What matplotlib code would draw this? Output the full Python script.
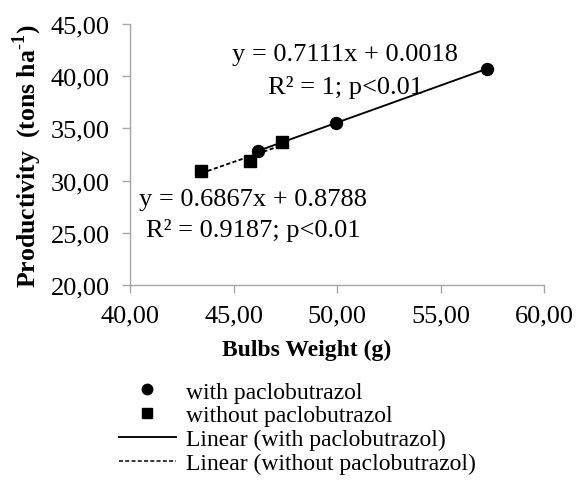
import numpy as np
import matplotlib
matplotlib.use("Agg")
import matplotlib.pyplot as plt
from matplotlib.lines import Line2D

# ---- data ----
with_x = [46.18, 49.93, 57.27]
with_y = [32.86, 35.52, 40.69]
without_x = [43.45, 45.82, 47.36]
without_y = [30.89, 31.85, 33.67]
with_fit = [0.7111, 0.0018]
without_fit = [0.6867, 0.8788]
x_ticks = [40, 45, 50, 55, 60]
y_ticks = [20, 25, 30, 35, 40, 45]
legend_labels = ["with paclobutrazol", "without paclobutrazol",
                 "Linear (with paclobutrazol)", "Linear (without paclobutrazol)"]
eq_with = ["y = 0.7111x + 0.0018", "R² = 1; p<0.01"]
eq_without = ["y = 0.6867x + 0.8788", "R² = 0.9187; p<0.01"]

plt.rcParams['font.family'] = ['Liberation Serif', 'DejaVu Serif']
plt.rcParams['mathtext.fontset'] = 'custom'
plt.rcParams['mathtext.rm'] = 'Liberation Serif'
plt.rcParams['mathtext.bf'] = 'Liberation Serif:bold'

W, H = 577, 481
fig = plt.figure(figsize=(W / 100, H / 100), dpi=100)
ax = fig.add_axes([130 / W, 1 - 286 / H, (544 - 130) / W, (286 - 25) / H])

axis_col = '#a6a6a6'
lw = 1.35

# trend lines
xw = np.array([min(with_x), max(with_x)])
ax.plot(xw, np.polyval(with_fit, xw), color='black', lw=lw, zorder=2)
xo = np.array([min(without_x), max(without_x)])
ax.plot(xo, np.polyval(without_fit, xo), color='black', lw=lw,
        dashes=(2.2, 1.3), zorder=2)

# points
ax.plot(with_x, with_y, 'o', color='black', ms=8.6, ls='none', zorder=3)
ax.plot(without_x, without_y, 's', color='black', ms=8.6, ls='none', zorder=3)

ax.set_xlim(40, 60)
ax.set_ylim(20, 45)
ax.set_xticks(x_ticks)
ax.set_yticks(y_ticks)
fmt = lambda v: f"{v:.2f}".replace('.', ',')
ax.set_xticklabels([fmt(v) for v in x_ticks])
ax.set_yticklabels([fmt(v) for v in y_ticks])

for s in ['top', 'right']:
    ax.spines[s].set_visible(False)
for s in ['left', 'bottom']:
    ax.spines[s].set_color(axis_col)
    ax.spines[s].set_linewidth(1.0)
ax.tick_params(axis='both', colors=axis_col, labelcolor='black',
               labelsize=19, length=5.5, width=1.0, direction='out')
ax.tick_params(axis='x', pad=8.5)
ax.tick_params(axis='y', pad=9)

# annotations
ax.text(50.4, 42.13, eq_with[0], ha='center', va='center', fontsize=19)
ax.text(50.4, 38.97, eq_with[1], ha='center', va='center', fontsize=19)
ax.text(45.94, 28.24, eq_without[0], ha='center', va='center', fontsize=19)
ax.text(45.94, 25.36, eq_without[1], ha='center', va='center', fontsize=19)

# axis labels
fig.text(307 / W, 1 - 350 / H, "Bulbs Weight (g)", ha='center', va='center',
         fontsize=17, fontweight='bold')
fig.text(27 / W, 1 - 156 / H, r"Productivity  (tons ha$^{\text{-}\mathbf{1}}$)",
         ha='center', va='center', rotation=90, fontsize=18.5, fontweight='bold')

# legend
handles = [
    Line2D([], [], marker='o', color='black', ls='none', ms=7.5),
    Line2D([], [], marker='s', color='black', ls='none', ms=7.5),
    Line2D([], [], color='black', lw=lw),
    Line2D([], [], color='black', lw=1.1, dashes=(2.6, 1.5)),
]
fig.legend(handles, legend_labels, loc='upper left',
           bbox_to_anchor=(119 / W, 1 - 382 / H), frameon=False,
           fontsize=17, handlelength=2.4, handletextpad=0.45,
           labelspacing=0.1, borderpad=0, borderaxespad=0)

fig.savefig('out.png', dpi=100)
